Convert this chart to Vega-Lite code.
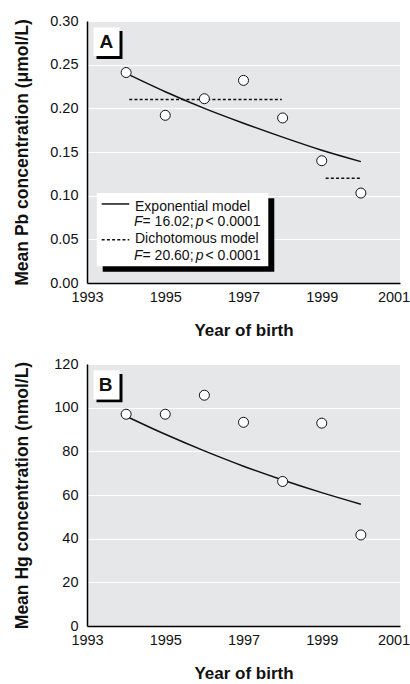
{
  "$schema": "https://vega.github.io/schema/vega-lite/v6.json",
  "background": "white",
  "padding": {"left": 12, "top": 13, "right": 0, "bottom": 0},
  "spacing": 81,
  "bounds": "flush",
  "config": {
    "view": {"fill": "#e6e7e8", "stroke": null},
    "axis": {
      "domainColor": "black", "domainWidth": 1.5, "ticks": false, "labelFlush": false,
      "labelFont": "Liberation Sans", "labelFontSize": 14.5, "labelColor": "#111",
      "titleFont": "Liberation Sans", "titleFontSize": 17, "titleFontWeight": "bold", "titleColor": "#111",
      "gridColor": "white", "gridWidth": 1.2, "gridOpacity": 1
    }
  },
  "vconcat": [
    {
      "width": 313, "height": 262,
      "encoding": {
        "x": {"field": "year", "type": "quantitative",
          "scale": {"domain": [1993, 2001], "nice": false, "zero": false},
          "axis": {"title": "Year of birth", "values": [1993, 1995, 1997, 1999, 2001], "format": "d", "grid": false, "labelPadding": 7.5, "titlePadding": 18,
            "labelOffset": {"condition": {"test": "datum.value == 2001", "value": -6.5}, "value": 0}}},
        "y": {"field": "value", "type": "quantitative",
          "scale": {"domain": [0, 0.3], "nice": false},
          "axis": {"title": "Mean Pb concentration (μmol/L)", "values": [0, 0.05, 0.1, 0.15, 0.2, 0.25, 0.3], "format": ".2f", "grid": true, "labelPadding": 9,
            "titleX": -56, "titleY": 131, "titleAngle": -90, "titleBaseline": "bottom", "titleAlign": "center", "titleFontSize": 17.5}}
      },
      "layer": [
        {
          "data": {"values": [
            {"year": 1993.401, "year2": 1997.787, "value": 0.0970, "value2": 0.0129},
            {"year": 1993.243, "year2": 1993.907, "value": 0.2885, "value2": 0.2565}
          ]},
          "mark": {"type": "rect", "fill": "black"},
          "encoding": {"x2": {"field": "year2"}, "y2": {"field": "value2"}}
        },
        {
          "data": {"values": [
            {"year": 1993.25, "year2": 1997.634, "value": 0.1031, "value2": 0.0191},
            {"year": 1993.166, "year2": 1993.831, "value": 0.2926, "value2": 0.2599}
          ]},
          "mark": {"type": "rect", "fill": "white"},
          "encoding": {"x2": {"field": "year2"}, "y2": {"field": "value2"}}
        },
        {
          "data": {"values": [
            {"year": 1994, "value": 0.240}, {"year": 1995, "value": 0.219}, {"year": 1996, "value": 0.200},
            {"year": 1997, "value": 0.183}, {"year": 1998, "value": 0.167}, {"year": 1999, "value": 0.152},
            {"year": 2000, "value": 0.139}
          ]},
          "mark": {"type": "line", "color": "#111", "strokeWidth": 1.5, "interpolate": "monotone"}
        },
        {
          "data": {"values": [
            {"year": 1994.08, "value": 0.21, "seg": "a"}, {"year": 1997.98, "value": 0.21, "seg": "a"},
            {"year": 1999.1, "value": 0.12, "seg": "b"}, {"year": 2000.0, "value": 0.12, "seg": "b"}
          ]},
          "mark": {"type": "line", "color": "#111", "strokeWidth": 1.5, "strokeDash": [3, 2.2]},
          "encoding": {"detail": {"field": "seg"}}
        },
        {
          "data": {"values": [{"year": 1993.375, "value": 0.0905}, {"year": 1994.08, "value": 0.0905}]},
          "mark": {"type": "line", "color": "#111", "strokeWidth": 1.5}
        },
        {
          "data": {"values": [{"year": 1993.375, "value": 0.0496}, {"year": 1994.08, "value": 0.0496}]},
          "mark": {"type": "line", "color": "#111", "strokeWidth": 1.5, "strokeDash": [3, 2.2]}
        },
        {
          "data": {"values": [
            {"year": 1994, "value": 0.241}, {"year": 1995, "value": 0.192}, {"year": 1996, "value": 0.211},
            {"year": 1997, "value": 0.232}, {"year": 1998, "value": 0.189}, {"year": 1999, "value": 0.140},
            {"year": 2000, "value": 0.103}
          ]},
          "mark": {"type": "point", "shape": "circle", "filled": false, "fill": "white", "fillOpacity": 1, "stroke": "#111", "strokeWidth": 1, "size": 100, "opacity": 1}
        },
        {
          "data": {"values": [
            {"year": 1994.227, "value": 0.0830, "label": "Exponential model"},
            {"year": 1994.42, "value": 0.0658, "label": "= 16.02;"},
            {"year": 1996.03, "value": 0.0658, "label": "< 0.0001"},
            {"year": 1994.227, "value": 0.0458, "label": "Dichotomous model"},
            {"year": 1994.42, "value": 0.0263, "label": "= 20.60;"},
            {"year": 1996.03, "value": 0.0263, "label": "< 0.0001"}
          ]},
          "mark": {"type": "text", "align": "left", "baseline": "alphabetic", "font": "Liberation Sans", "fontSize": 14, "color": "#111"},
          "encoding": {"text": {"field": "label"}}
        },
        {
          "data": {"values": [
            {"year": 1994.201, "value": 0.0658, "label": "F"},
            {"year": 1995.778, "value": 0.0658, "label": "p"},
            {"year": 1994.201, "value": 0.0263, "label": "F"},
            {"year": 1995.778, "value": 0.0263, "label": "p"}
          ]},
          "mark": {"type": "text", "align": "left", "baseline": "alphabetic", "font": "Liberation Sans", "fontSize": 14, "fontStyle": "italic", "color": "#111"},
          "encoding": {"text": {"field": "label"}}
        },
        {
          "data": {"values": [{"year": 1993.498, "value": 0.2694, "label": "A"}]},
          "mark": {"type": "text", "align": "center", "baseline": "alphabetic", "font": "Liberation Sans", "fontSize": 19, "fontWeight": "bold", "color": "#111"},
          "encoding": {"text": {"field": "label"}}
        }
      ]
    },
    {
      "width": 313, "height": 262,
      "encoding": {
        "x": {"field": "year", "type": "quantitative",
          "scale": {"domain": [1993, 2001], "nice": false, "zero": false},
          "axis": {"title": "Year of birth", "values": [1993, 1995, 1997, 1999, 2001], "format": "d", "grid": false, "labelPadding": 7.5, "titlePadding": 18,
            "labelOffset": {"condition": {"test": "datum.value == 2001", "value": -6.5}, "value": 0}}},
        "y": {"field": "value", "type": "quantitative",
          "scale": {"domain": [0, 120], "nice": false},
          "axis": {"title": "Mean Hg concentration (nmol/L)", "values": [0, 20, 40, 60, 80, 100, 120], "format": "d", "grid": true, "labelPadding": 9,
            "titleX": -56, "titleY": 131, "titleAngle": -90, "titleBaseline": "bottom", "titleAlign": "center", "titleFontSize": 17.5}}
      },
      "layer": [
        {
          "data": {"values": [
            {"year": 1993.243, "year2": 1993.907, "value": 115.4, "value2": 102.5}
          ]},
          "mark": {"type": "rect", "fill": "black"},
          "encoding": {"x2": {"field": "year2"}, "y2": {"field": "value2"}}
        },
        {
          "data": {"values": [
            {"year": 1993.166, "year2": 1993.831, "value": 117.1, "value2": 103.7}
          ]},
          "mark": {"type": "rect", "fill": "white"},
          "encoding": {"x2": {"field": "year2"}, "y2": {"field": "value2"}}
        },
        {
          "data": {"values": [
            {"year": 1994, "value": 96.1}, {"year": 1995, "value": 87.8}, {"year": 1996, "value": 80.2},
            {"year": 1997, "value": 73.2}, {"year": 1998, "value": 66.9}, {"year": 1999, "value": 61.1},
            {"year": 2000, "value": 55.8}
          ]},
          "mark": {"type": "line", "color": "#111", "strokeWidth": 1.5, "interpolate": "monotone"}
        },
        {
          "data": {"values": [
            {"year": 1994, "value": 97.0}, {"year": 1995, "value": 97.0}, {"year": 1996, "value": 105.7},
            {"year": 1997, "value": 93.3}, {"year": 1998, "value": 66.2}, {"year": 1999, "value": 92.9},
            {"year": 2000, "value": 41.7}
          ]},
          "mark": {"type": "point", "shape": "circle", "filled": false, "fill": "white", "fillOpacity": 1, "stroke": "#111", "strokeWidth": 1, "size": 100, "opacity": 1}
        },
        {
          "data": {"values": [{"year": 1993.473, "value": 107.6, "label": "B"}]},
          "mark": {"type": "text", "align": "center", "baseline": "alphabetic", "font": "Liberation Sans", "fontSize": 19, "fontWeight": "bold", "color": "#111"},
          "encoding": {"text": {"field": "label"}}
        }
      ]
    }
  ]
}
